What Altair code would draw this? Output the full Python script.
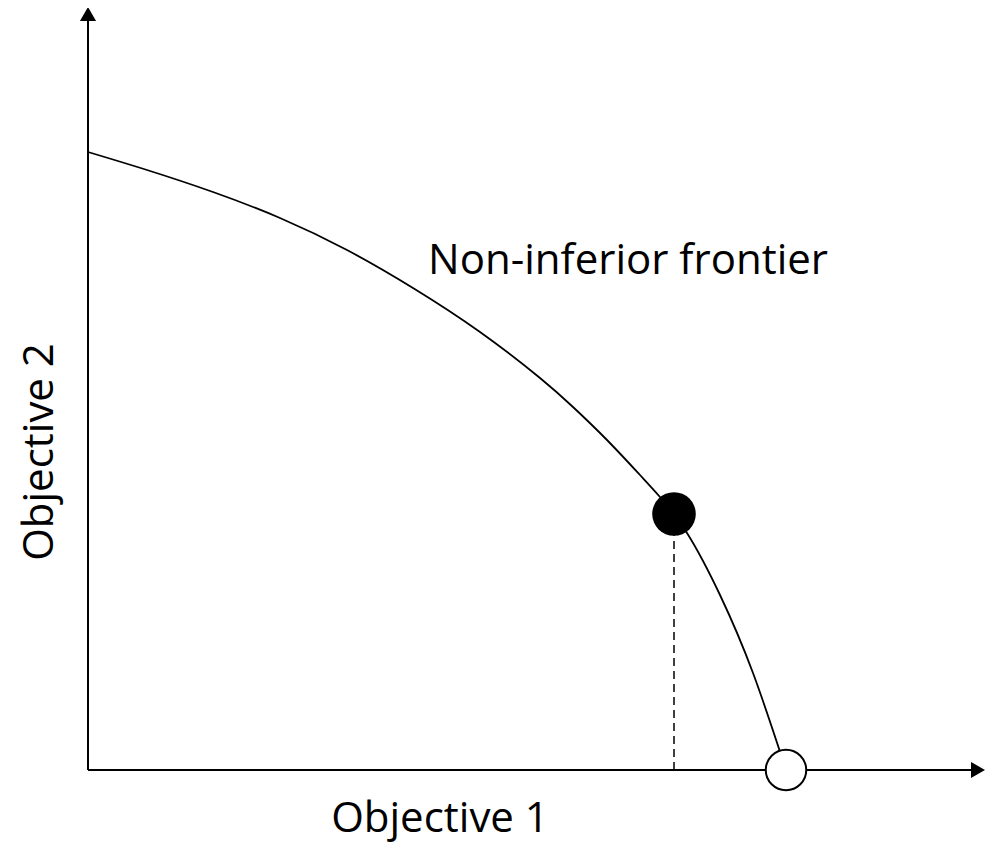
import altair as alt
import pandas as pd

# Non-inferior frontier (Objective 1, Objective 2)
frontier_obj1 = [0.00, 0.59, 1.25, 1.92, 2.59, 3.25, 3.92, 4.52, 4.85, 5.19, 5.52, 5.72, 5.99, 6.32, 6.65, 6.98]
frontier_obj2 = [6.18, 6.00, 5.78, 5.52, 5.20, 4.82, 4.38, 3.92, 3.63, 3.30, 2.95, 2.73, 2.37, 1.75, 0.97, 0.00]

# highlighted solutions
chosen_obj1, chosen_obj2 = 5.86, 2.56       # filled point on the frontier
extreme_obj1, extreme_obj2 = 6.98, 0.00     # open point on Objective 1 axis

# axis extents
x_axis_end = 8.90
y_axis_end = 7.56

# labels
frontier_label = "Non-inferior frontier"
x_label = "Objective 1"
y_label = "Objective 2"

FONT = "Open Sans"
FS = 42

xs = alt.Scale(domain=[-0.80, 8.97], nice=False, zero=False)
ys = alt.Scale(domain=[-0.75, 7.62], nice=False, zero=False)

def X(field="x"):
    return alt.X(f"{field}:Q", scale=xs, axis=None)

def Y(field="y"):
    return alt.Y(f"{field}:Q", scale=ys, axis=None)

frontier_df = pd.DataFrame({"x": frontier_obj1, "y": frontier_obj2})

x_axis = alt.Chart(pd.DataFrame({"x": [0.0], "x2": [x_axis_end], "y": [0.0]})).mark_rule(
    color="black", strokeWidth=2).encode(x=X(), x2="x2:Q", y=Y())
y_axis = alt.Chart(pd.DataFrame({"x": [0.0], "y": [0.0], "y2": [y_axis_end]})).mark_rule(
    color="black", strokeWidth=2).encode(x=X(), y=Y(), y2="y2:Q")

arrows = alt.Chart(pd.DataFrame({
    "x": [x_axis_end, 0.0], "y": [0.0, y_axis_end], "shape": ["triangle-right", "triangle-up"]
})).mark_point(filled=True, color="black", opacity=1, size=260).encode(
    x=X(), y=Y(), shape=alt.Shape("shape:N", scale=None, legend=None))

frontier = alt.Chart(frontier_df).mark_line(
    color="black", strokeWidth=1.8, interpolate="natural").encode(
    x=X(), y=Y(), order=alt.Order("x:Q"))

dashed = alt.Chart(pd.DataFrame({"x": [chosen_obj1], "y": [0.0], "y2": [chosen_obj2]})).mark_rule(
    color="black", strokeWidth=1.5, strokeDash=[8, 5]).encode(x=X(), y=Y(), y2="y2:Q")

chosen = alt.Chart(pd.DataFrame({"x": [chosen_obj1], "y": [chosen_obj2]})).mark_circle(
    color="black", opacity=1, size=1900).encode(x=X(), y=Y())

extreme = alt.Chart(pd.DataFrame({"x": [extreme_obj1], "y": [extreme_obj2]})).mark_point(
    shape="circle", filled=True, fill="white", stroke="black", strokeWidth=2, opacity=1,
    size=1640).encode(x=X(), y=Y())

texts_df = pd.DataFrame({
    "x": [5.40, 3.52], "y": [4.96, -0.62], "label": [frontier_label, x_label]
})
texts = alt.Chart(texts_df).mark_text(
    font=FONT, fontSize=FS, color="black", align="center", baseline="alphabetic").encode(
    x=X(), y=Y(), text="label:N")

ylab = alt.Chart(pd.DataFrame({"x": [-0.35], "y": [3.18], "label": [y_label]})).mark_text(
    font=FONT, fontSize=FS, color="black", align="center", baseline="alphabetic", angle=270).encode(
    x=X(), y=Y(), text="label:N")

chart = alt.layer(
    x_axis, y_axis, arrows, frontier, dashed, chosen, extreme, texts, ylab
).properties(
    width=977, height=837, padding=0, autosize=alt.AutoSizeParams(type="none")
).configure_view(stroke=None)

chart.save("out.html", embed_options={"renderer": "svg", "actions": False})
